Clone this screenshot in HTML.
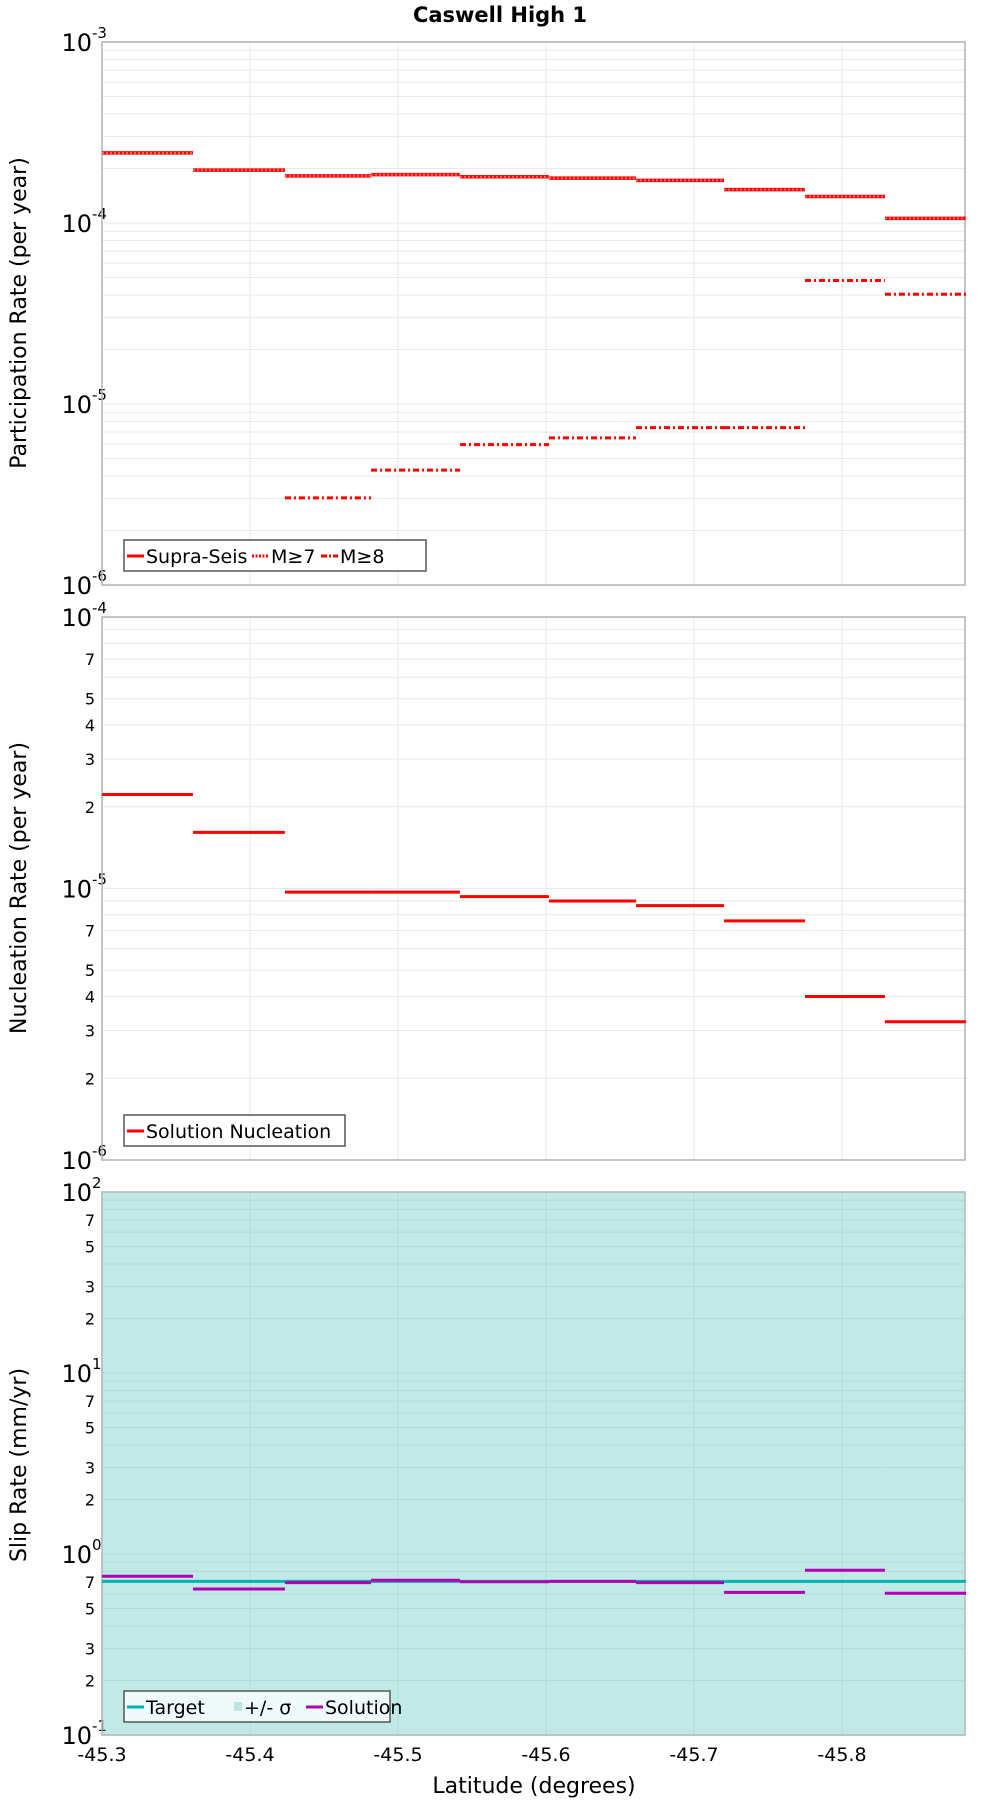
<!DOCTYPE html>
<html><head><meta charset="utf-8"><style>
html,body{margin:0;padding:0;background:#fff;}
svg{display:block;font-family:"DejaVu Sans","Liberation Sans",sans-serif;}
</style></head><body>
<svg id="c" width="1000" height="1800" viewBox="0 0 1000 1800" xmlns="http://www.w3.org/2000/svg">
<text x="500" y="22" text-anchor="middle" font-size="21" font-weight="bold">Caswell High 1</text>
</svg>
<script>
const binEdges = [-45.3, -45.3615, -45.4236, -45.4818, -45.5419, -45.6020, -45.6608, -45.7203, -45.775, -45.829, -45.8838];
const supraSeis = [2.44e-4,1.96e-4,1.82e-4,1.85e-4,1.80e-4,1.77e-4,1.72e-4,1.53e-4,1.40e-4,1.06e-4];
const m7 = [2.44e-4,1.96e-4,1.82e-4,1.85e-4,1.80e-4,1.77e-4,1.72e-4,1.53e-4,1.40e-4,1.06e-4];
const m8 = [null,null,3.03e-6,4.31e-6,5.96e-6,6.50e-6,7.41e-6,7.41e-6,4.81e-5,4.04e-5];
const nucleation = [2.22e-5,1.61e-5,9.7e-6,9.7e-6,9.33e-6,8.99e-6,8.65e-6,7.60e-6,4.00e-6,3.23e-6];
const slipTarget = [0.706,0.706,0.706,0.706,0.706,0.706,0.706,0.706,0.706,0.706];
const slipSolution = [0.753,0.641,0.695,0.716,0.703,0.706,0.695,0.614,0.813,0.607];
const sigmaLow = [0.1,0.1,0.1,0.1,0.1,0.1,0.1,0.1,0.1,0.1];
const sigmaHigh = [100,100,100,100,100,100,100,100,100,100];
const xTicks = [-45.3,-45.4,-45.5,-45.6,-45.7,-45.8];

const NS='http://www.w3.org/2000/svg';
const svg=document.getElementById('c');
const L=102,R=965,X0=-45.3,X1=-45.8831;
function xs(v){return L+(v-X0)/(X1-X0)*(R-L);}
function mk(tag,attrs,parent){const e=document.createElementNS(NS,tag);for(const k in attrs)e.setAttribute(k,attrs[k]);(parent||svg).appendChild(e);return e;}

function panel(name,top,bot,eMin,eMax,minorLabels,bg,gridCol){
  const g=mk('g',{});
  
  
  const ys=v=>bot-(Math.log10(v)-eMin)/(eMax-eMin)*(bot-top);
  const bgR=mk('rect',{x:L,y:top,width:R-L,height:bot-top,fill:bg},g);
  
  
  for(const t of xTicks){const gl=mk('line',{x1:xs(t),x2:xs(t),y1:top,y2:bot,stroke:gridCol,'stroke-width':1},g);
    
    }
  for(let e=eMin;e<=eMax;e++){
    for(let m=1;m<=9;m++){
      const v=m*Math.pow(10,e); if(e===eMax&&m>1)break;
      const y=ys(v);
      if(m>1||(e>eMin&&e<eMax)){const gl=mk('line',{x1:L,x2:R,y1:y,y2:y,stroke:gridCol,'stroke-width':1},g);
        
        }
      if(m===1){
        const t=mk('text',{x:92,y:y+9,'text-anchor':'end','font-size':24},g);
        
        
        t.textContent='10';
        const s=mk('text',{x:92,y:y-4,'font-size':15},g);
        
        
        s.textContent=String(e);
      } else if(minorLabels.includes(m)){
        const t=mk('text',{x:95,y:y+6,'text-anchor':'end','font-size':16},g);
        
        
        t.textContent=String(m);
      }
    }
  }
  const fr=mk('rect',{x:L,y:top,width:R-L,height:bot-top,fill:'none',stroke:'#b0b0b0','stroke-width':1.5},g);
  
  
  return {g,ys};
}
function steps(p,vals,color,dash,name,w){
  for(let i=0;i<vals.length;i++){if(vals[i]==null)continue;
    const y=p.ys(vals[i]);
    const ln=mk('line',{x1:xs(binEdges[i]),x2:xs(binEdges[i+1]),y1:y,y2:y,stroke:color,'stroke-width':w||3,'stroke-dasharray':dash||'none'},p.g);
    
    }
}
function ylabel(text,cy){const t=mk('text',{x:0,y:0,'text-anchor':'middle','font-size':22,transform:`translate(26 ${cy}) rotate(-90)`});
  
  
  t.textContent=text;}
function legend(x,y,w,items,bg){
  const g=mk('g',{});
  
  
  mk('rect',{x:x,y:y,width:w,height:31,fill:bg,stroke:'#555','stroke-width':1.5},g);
  let cx=x+3;
  for(const it of items){
    if(it.box){mk('rect',{x:cx+2,y:y+11,width:8,height:9,fill:it.color},g);cx+=12;}
    else{mk('line',{x1:cx,x2:cx+17,y1:y+16,y2:y+16,stroke:it.color,'stroke-width':3,'stroke-dasharray':it.dash||'none'},g);cx+=19;}
    const t=mk('text',{x:cx,y:y+23,'font-size':19},g);
    
    
    t.textContent=it.label;
    cx+=it.w;
  }
}

// Panel 1
const p1=panel('participation-panel',42,585,-6,-3,[],'#fff','#e8e8e8');
steps(p1,supraSeis,'#ff0000','none','supra-seis-segment',3.5);
steps(p1,m7,'#ff6666','2 2','m7-segment',2);
steps(p1,m8,'#ff0000','6 3 2 3','m8-segment',3);
ylabel('Participation Rate (per year)',313);
legend(124,540,302,[{label:'Supra-Seis',color:'#f00',w:106},{label:'M≥7',color:'#f00',dash:'2 1.5',w:50},{label:'M≥8',color:'#f00',dash:'6 2 2 2',w:50}],'#fff');

// Panel 2
const p2=panel('nucleation-panel',617,1160,-6,-4,[2,3,4,5,7],'#fff','#e8e8e8');
steps(p2,nucleation,'#ff0000','none','nucleation-segment',3);
ylabel('Nucleation Rate (per year)',888);
legend(124,1115,221,[{label:'Solution Nucleation',color:'#f00',w:190}],'#fff');

// Panel 3
const p3=panel('slip-rate-panel',1192,1735,-1,2,[2,3,5,7],'#c3ebe9','#afd9d6');
for(let i=0;i<sigmaLow.length;i++){
  const r=mk('rect',{x:xs(binEdges[i]),y:p3.ys(sigmaHigh[i]),width:xs(binEdges[i+1])-xs(binEdges[i]),height:p3.ys(sigmaLow[i])-p3.ys(sigmaHigh[i]),fill:'#b9e6e3','fill-opacity':0.2},p3.g);
  
  
}
steps(p3,slipTarget,'#00b3b3','none','target-segment',3);
steps(p3,slipSolution,'#b400b4','none','solution-segment',3);
ylabel('Slip Rate (mm/yr)',1465);
legend(124,1691,266,[{label:'Target',color:'#00b3b3',w:86},{label:'+/- σ',color:'#b9e6e3',box:true,w:62},{label:'Solution',color:'#b400b4',w:90}],'#effafa');

// x ticks
for(const t of xTicks){
  const tx=mk('text',{x:xs(t),y:1761,'text-anchor':'middle','font-size':19});
  
  
  tx.textContent=t.toFixed(1);
}
const xl=mk('text',{x:534,y:1793,'text-anchor':'middle','font-size':22});


xl.textContent='Latitude (degrees)';
</script>
</body></html>
